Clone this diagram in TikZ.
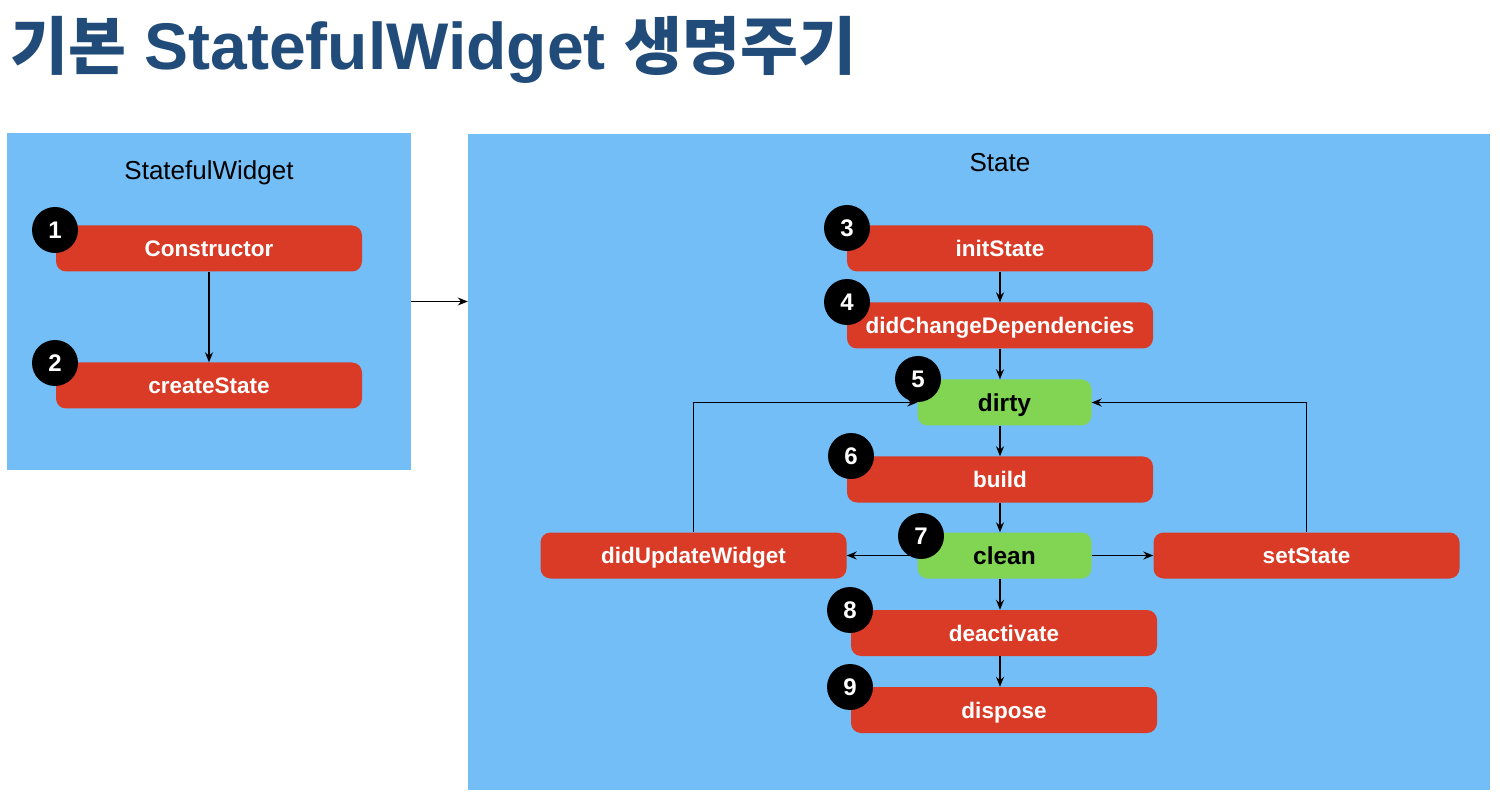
\documentclass[tikz,border=0pt]{standalone}
\usepackage{fontspec}
\setmainfont{Liberation Sans}
\newfontfamily\kr{Noto Sans CJK KR}
\usetikzlibrary{arrows.meta}
\definecolor{titleblue}{RGB}{33,76,122}
\definecolor{panelblue}{RGB}{115,190,247}
\definecolor{boxred}{RGB}{217,59,39}
\definecolor{boxgreen}{RGB}{129,213,82}
\begin{document}
\begin{tikzpicture}[x=1pt,y=-1pt,
  panel/.style={rectangle,fill=panelblue,inner sep=0pt},
  redbox/.style={rectangle,rounded corners=10pt,fill=boxred,text=white,inner sep=0pt,
    minimum width=306pt,minimum height=46pt,text height=16pt,text depth=0pt,
    font=\fontsize{22.5pt}{26pt}\selectfont\bfseries},
  greenbox/.style={rectangle,rounded corners=10pt,fill=boxgreen,text=black,inner sep=0pt,
    minimum width=174pt,minimum height=46pt,text height=17.5pt,text depth=0pt,
    font=\fontsize{24.5pt}{28pt}\selectfont\bfseries},
  badge/.style={circle,fill=black,text=white,inner sep=0pt,minimum size=46pt,
    text height=17pt,text depth=0pt,font=\fontsize{24pt}{28pt}\selectfont\bfseries},
  plabel/.style={anchor=base,inner sep=0pt,font=\fontsize{26pt}{30pt}\selectfont},
  arr/.style={-{Stealth[length=10pt,width=8pt]},line width=1.2pt,black}
]
\useasboundingbox (0,0) rectangle (1500,799);
\fill[white] (0,0) rectangle (1500,799);

% title
\node[anchor=base west,inner sep=0pt,text=titleblue,font=\fontsize{66pt}{72pt}\selectfont\bfseries] (title) at (10,70)
  {{\kr\fontsize{63pt}{72pt}\selectfont 기본} StatefulWidget {\kr\fontsize{63pt}{72pt}\selectfont 생명주기}};

% panels
\node[panel,minimum width=404pt,minimum height=337pt] (left) at (209,301.5) {};
\node[panel,minimum width=1022pt,minimum height=656pt] (state) at (979,462) {};
\node[plabel] (leftlabel) at (209,180) {StatefulWidget};
\node[plabel] (statelabel) at (1000,172) {State};

% left boxes
\node[redbox] (constructor) at (209,248.5) {Constructor};
\node[redbox] (createState) at (209,385.5) {createState};

% right boxes
\node[redbox] (initState) at (1000,248.5) {initState};
\node[redbox] (didChange) at (1000,325.5) {didChangeDependencies};
\node[greenbox] (dirty) at (1004.5,402.5) {dirty};
\node[redbox] (build) at (1000,479.5) {build};
\node[greenbox] (clean) at (1004.5,555.5) {clean};
\node[redbox] (didUpdate) at (693.5,555.5) {didUpdateWidget};
\node[redbox] (setState) at (1306.5,555.5) {setState};
\node[redbox] (deactivate) at (1004,633) {deactivate};
\node[redbox] (dispose) at (1004,710) {dispose};

% connectors
\draw[arr] (constructor.south) -- (createState.north);
\draw[arr] (left.east) -- (state.west |- left.east);
\draw[arr] (initState.south) -- (didChange.north);
\draw[arr] (didChange.south) -- (didChange.south |- dirty.north);
\draw[arr] (dirty.south -| build.north) -- (build.north);
\draw[arr] (build.south) -- (build.south |- clean.north);
\draw[arr] (clean.south -| build.south) -- (deactivate.north -| build.south);
\draw[arr] (deactivate.south -| build.south) -- (dispose.north -| build.south);
\draw[arr] (clean.west) -- (didUpdate.east);
\draw[arr] (clean.east) -- (setState.west);
\draw[arr] (didUpdate.north) |- (dirty.west);
\draw[arr] (setState.north) |- (dirty.east);

% badges
\node[badge] (b1) at (55,230) {1};
\node[badge] (b2) at (55,363) {2};
\node[badge] (b3) at (847,228) {3};
\node[badge] (b4) at (847,302) {4};
\node[badge] (b5) at (918,379) {5};
\node[badge] (b6) at (851,456) {6};
\node[badge] (b7) at (921,536) {7};
\node[badge] (b8) at (850,610) {8};
\node[badge] (b9) at (850,687) {9};
\end{tikzpicture}
\end{document}
